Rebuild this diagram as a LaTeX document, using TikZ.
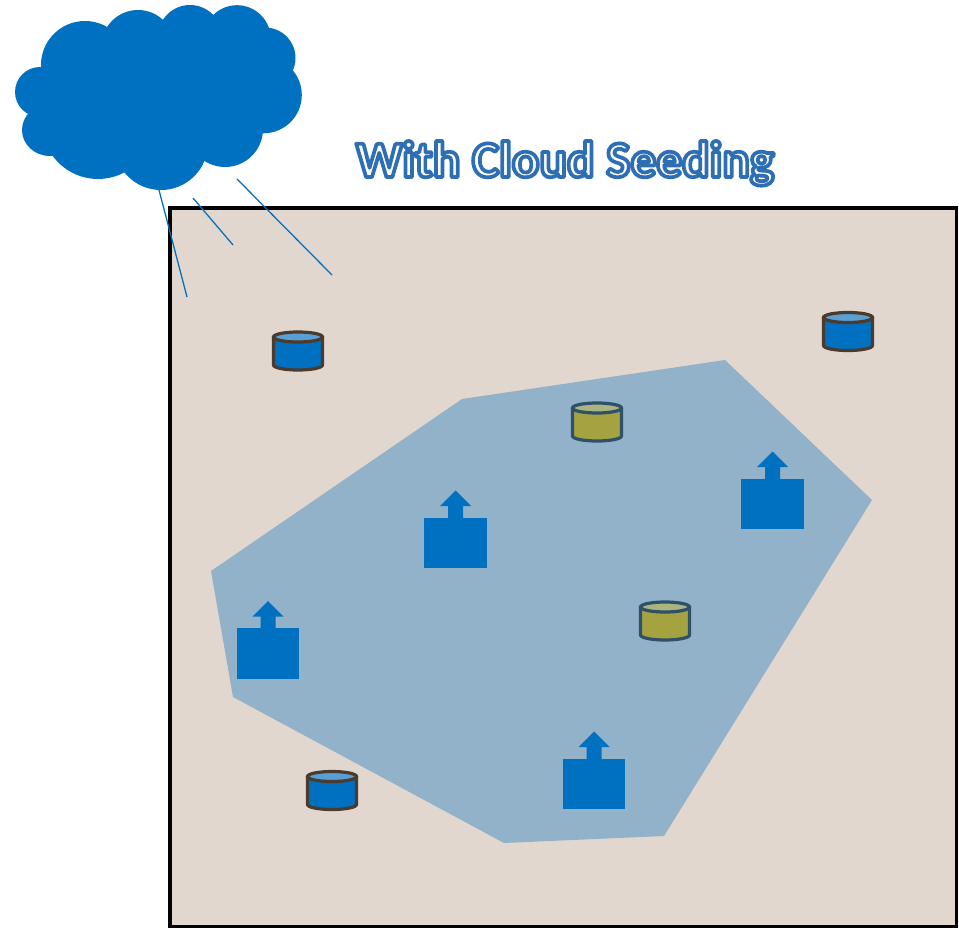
\documentclass[tikz,border=0pt]{standalone}
\usepackage{fontspec}
\setmainfont{Carlito}
\definecolor{ground}{HTML}{E2D7CF}
\definecolor{zone}{HTML}{91B2C9}
\definecolor{mainblue}{HTML}{0070C0}
\definecolor{liteblue}{HTML}{5A9FD3}
\definecolor{brownline}{HTML}{4B3A2E}
\definecolor{zoneline}{HTML}{2F5069}
\definecolor{olive}{HTML}{A5A340}
\definecolor{liteolive}{HTML}{A9B47F}
\newcommand{\strokedtext}[3]{\special{pdf:code q #1 rg #2 RG 2 Tr 2.8 w 1 j}#3\special{pdf:code Q}}
\tikzset{
  x=0.75pt,y=-0.75pt,
  rain/.style={draw=mainblue,line width=0.95pt},
  puff/.style={fill=mainblue,draw=none},
  pics/tank/.style args={#1/#2/#3}{code={
    \draw[fill=#1,draw=#3,line width=2.4pt,line join=round]
      (-24.5,0) -- (-24.5,28) arc[start angle=180,end angle=360,x radius=24.5,y radius=-5] -- (24.5,0) -- cycle;
    \draw[fill=#2,draw=#3,line width=2.4pt] (0,0) ellipse[x radius=24.5,y radius=5];
  }},
  pics/plant/.style={code={
    \fill[mainblue] (-31.5,0) rectangle (31,50.5);
    \fill[mainblue] (-7.5,1) -- (-7.5,-11.5) -- (-15.5,-11.5) -- (0,-27) -- (15.5,-11.5) -- (7.5,-11.5) -- (7.5,1) -- cycle;
  }}
}
\begin{document}
\begin{tikzpicture}
\useasboundingbox (0,0) rectangle (959,927);
% ground
\draw[fill=ground,draw=black,line width=2.5pt] (170,208) rectangle (956.5,926.5);
% zone
\fill[zone] (462,399) -- (725,360) -- (872,500) -- (664,836) -- (504,843) -- (233,697) -- (211,571) -- cycle;
% cloud
\fill[puff] (85,65) circle[radius=44];
\fill[puff] (138,46.5) circle[radius=36.5];
\fill[puff] (190,37) circle[radius=32];
\fill[puff] (237,39) circle[radius=33.8];
\fill[puff] (265,58) circle[radius=30.5];
\fill[puff] (263.5,95) circle[radius=38.3];
\fill[puff] (225,129) circle[radius=38];
\fill[puff] (161,143) circle[radius=47];
\fill[puff] (98,123) circle[radius=56];
\fill[puff] (50,130) ellipse[x radius=28,y radius=26];
\fill[puff] (40,92) circle[radius=25];
\fill[puff] (60,90) -- (130,40) -- (260,50) -- (260,110) -- (160,160) -- (60,130) -- cycle;
% rain
\coordinate (r1a) at (159,190); \coordinate (r1b) at (187,297);
\coordinate (r2a) at (193,198); \coordinate (r2b) at (233,245);
\coordinate (r3a) at (237,179); \coordinate (r3b) at (332,275);
\draw[rain] (r1a) -- (r1b);
\draw[rain] (r2a) -- (r2b);
\draw[rain] (r3a) -- (r3b);
% tanks
\pic at (298,337) {tank={mainblue/liteblue/brownline}};
\pic at (848,317.5) {tank={mainblue/liteblue/brownline}};
\pic at (332,776.5) {tank={mainblue/liteblue/brownline}};
\pic at (597,408) {tank={olive/liteolive/zoneline}};
\pic at (665,607) {tank={olive/liteolive/zoneline}};
% plants
\pic at (455.5,517.5) {plant};
\pic at (772.5,478.5) {plant};
\pic at (268,628) {plant};
\pic at (594,758.5) {plant};
% title
\node[inner sep=0pt,anchor=base,font=\bfseries\fontsize{38.5}{42}\selectfont] (title) at (565,177) {%
  \strokedtext{1 1 1}{0.18 0.43 0.71}{With Cloud Seeding}};
\end{tikzpicture}
\end{document}
